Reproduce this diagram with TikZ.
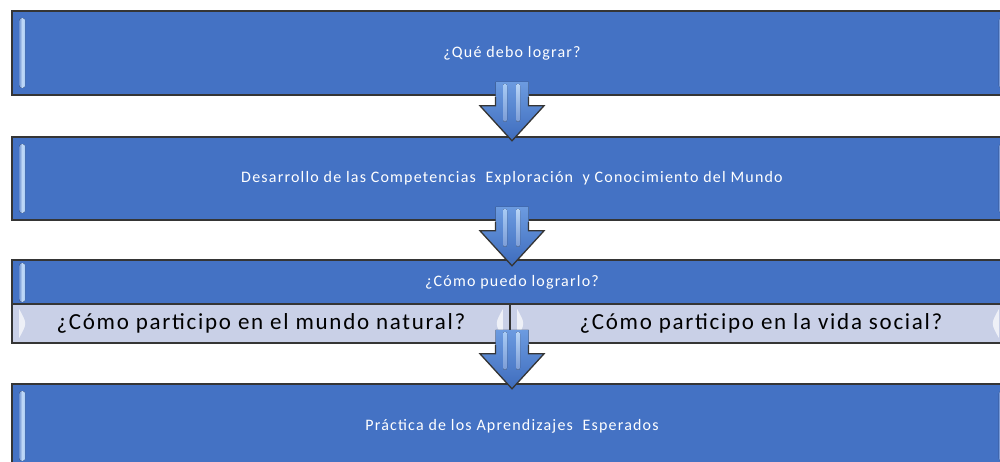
\documentclass[tikz,border=0pt]{standalone}
\usepackage{fontspec}
\setmainfont{Carlito}[LetterSpace=7.5]
\usetikzlibrary{calc}
\definecolor{boxblue}{HTML}{4472C4}
\definecolor{boxlight}{HTML}{C9D0E7}
\definecolor{edgegrey}{HTML}{353535}
\definecolor{hilite}{HTML}{A8CBF5}
\definecolor{arrowtop}{HTML}{6C9BE0}
\definecolor{arrowbot}{HTML}{3E6CBD}
\tikzset{
  bluebox/.style={draw=edgegrey, line width=1.6pt, fill=boxblue, text=white,
    inner sep=0pt, font=\fontsize{16}{19}\selectfont},
  lightbox/.style={draw=edgegrey, line width=1.6pt, fill=boxlight, text=black,
    inner sep=0pt, font=\fontsize{23}{27}\selectfont},
  strip/.style={left color=boxblue!75!white, right color=hilite, middle color=hilite!70!white,
    rounded corners=2.5pt},
  lens/.style={fill=white, opacity=0.7},
  downarrow/.pic={
    \fill[top color=arrowtop, bottom color=arrowbot]
      (-16.5,-14) -- (16.5,-14) -- (16.5,10) -- (32,10) -- (0,45) -- (-32,10) -- (-16.5,10) -- cycle;
    \fill[top color=hilite, bottom color=boxblue!70!white, rounded corners=2pt] (-9,-12) rectangle (-5,26);
    \fill[top color=hilite!80!white, bottom color=boxblue!70!white, rounded corners=2pt] (4,-12) rectangle (8,26);
    \draw[edgegrey, line width=1.3pt, line join=miter]
      (-16.5,1) -- (-16.5,10) -- (-32,10) -- (0,45) -- (32,10) -- (16.5,10) -- (16.5,1);
  }
}
\begin{document}
\begin{tikzpicture}[x=1pt,y=-1pt]
\useasboundingbox (0,0) rectangle (1000,462);
\clip (0,0) rectangle (1000,462);
\fill[white] (0,0) rectangle (1000,462);

% boxes
\node[bluebox, minimum width=1000pt, minimum height=84pt] (b1) at (512,53) {¿Qué debo lograr?};
\node[bluebox, minimum width=1000pt, minimum height=83pt] (b2) at (512,178.5) {Desarrollo de las Competencias \ Exploración \ y Conocimiento del Mundo};
\node[bluebox, minimum width=1000pt, minimum height=44pt] (b3) at (512,282) {¿Cómo puedo lograrlo?};
\node[lightbox, minimum width=498pt, minimum height=39pt] (b3l) at (261,323.5) {¿Cómo participo en el mundo natural?};
\node[lightbox, minimum width=502pt, minimum height=39pt] (b3r) at (761,323.5) {¿Cómo participo en la vida social?};
\node[bluebox, minimum width=1000pt, minimum height=84pt] (b4) at (512,426) {Práctica de los Aprendizajes \ Esperados};

% bevel highlights
\foreach \b in {b1,b2,b4}{
  \fill[strip] ($(\b.north west)+(8,8)$) rectangle ($(\b.south west)+(14,-8)$);
  \fill[strip] ($(\b.north east)+(-14,8)$) rectangle ($(\b.south east)+(-8,-8)$);
}
\fill[strip] ($(b3.north west)+(8,4)$) rectangle ($(b3.south west)+(14,-3)$);
\fill[lens] ($(b3l.north west)+(8,6)$) .. controls ($(b3l.west)+(16,0)$) .. ($(b3l.south west)+(8,-6)$) -- cycle;
\fill[lens] ($(b3l.north east)+(-8,6)$) .. controls ($(b3l.east)+(-16,0)$) .. ($(b3l.south east)+(-8,-6)$) -- cycle;
\fill[lens] ($(b3r.north west)+(8,6)$) .. controls ($(b3r.west)+(16,0)$) .. ($(b3r.south west)+(8,-6)$) -- cycle;
\fill[lens] ($(b3r.north east)+(-14,6)$) .. controls ($(b3r.east)+(-22,0)$) .. ($(b3r.south east)+(-14,-6)$) -- cycle;

% arrows
\pic at (b1.south) {downarrow};
\pic at (b2.south) {downarrow};
\pic at ($(b3.south)+(0,39)$) {downarrow};
\end{tikzpicture}
\end{document}
